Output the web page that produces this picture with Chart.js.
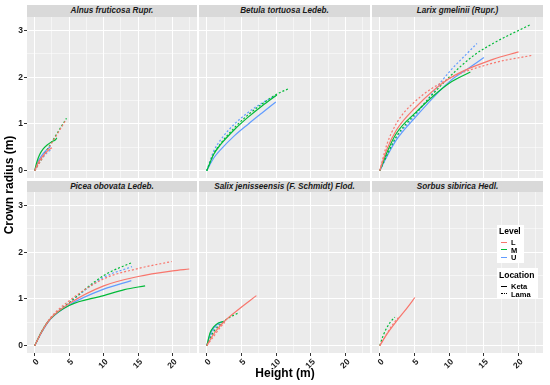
<!DOCTYPE html>
<html>
<head>
<meta charset="utf-8">
<script src="https://cdn.jsdelivr.net/npm/chart.js"></script>
<style>
body{margin:0;background:#fff;width:550px;height:385px;position:relative;overflow:hidden;font-family:"Liberation Sans",Arial,sans-serif}
canvas{position:absolute;z-index:1}
.strip{position:absolute;background:#d9d9d9;color:#1a1a1a;font-weight:bold;font-style:italic;font-size:8.2px;text-align:center;white-space:nowrap}
.lab{position:absolute;font-weight:bold;color:#000;white-space:nowrap;z-index:3}
.lgbox{position:absolute;background:#fff;z-index:2}
.key{position:absolute;width:6px;height:0;z-index:3}
</style>
</head>
<body>
<div class="lab" style="font-size:12px;left:-46px;top:178px;width:110px;text-align:center;transform:rotate(-90deg)">Crown radius (m)</div>
<div class="lab" style="font-size:12px;left:235px;top:366px;width:100px;text-align:center">Height (m)</div>

<div class="lgbox" style="left:497px;top:225px;width:27px;height:38px"></div>
<div class="lgbox" style="left:497px;top:268px;width:41px;height:30px"></div>
<div id="legend"></div>

<script>
// facets, in reading order
var species = ["Alnus fruticosa Rupr.", "Betula tortuosa Ledeb.", "Larix gmelinii (Rupr.)",
               "Picea obovata Ledeb.", "Salix jenisseensis (F. Schmidt) Flod.", "Sorbus sibirica Hedl."];
var levels = ["L", "M", "U"];
var locations = ["Keta", "Lama"];
var levelColors = ["#F8766D", "#00BA38", "#619CFF"];
var xTicks = [0, 5, 10, 15, 20];
var yTicks = [0, 1, 2, 3];

// [level, location, height (m), crown radius (m)]
var alnus = [
  ["L", "Keta", [0, 0.5, 1, 1.5, 2, 2.5], [0, 0.17, 0.28, 0.37, 0.44, 0.49]],
  ["L", "Lama", [0, 1, 2, 3, 4, 4.5], [0, 0.24, 0.48, 0.72, 0.96, 1.08]],
  ["M", "Keta", [0, 0.3, 0.7, 1.2, 1.8, 2.5, 3.0, 3.2], [0, 0.18, 0.34, 0.46, 0.55, 0.62, 0.66, 0.7]],
  ["M", "Lama", [0, 1, 2, 3, 4, 4.6], [0, 0.25, 0.5, 0.74, 0.98, 1.12]],
  ["U", "Keta", [0, 0.5, 1, 1.5, 2, 2.3], [0, 0.2, 0.32, 0.41, 0.48, 0.52]],
  ["U", "Lama", [0, 0.5, 1, 1.5, 2, 2.5], [0, 0.15, 0.25, 0.34, 0.41, 0.46]]
];
var betula = [
  ["M", "Keta", [0, 1, 2, 4, 6, 8, 10.1], [0, 0.35, 0.56, 0.88, 1.15, 1.39, 1.62]],
  ["M", "Lama", [0, 1, 2, 4, 6, 8, 10, 11.9], [0, 0.36, 0.58, 0.92, 1.2, 1.43, 1.63, 1.76]],
  ["U", "Keta", [0, 1, 2, 4, 6, 8, 9.95], [0, 0.27, 0.45, 0.75, 1.0, 1.24, 1.47]],
  ["U", "Lama", [0, 1, 2, 4, 6, 8, 9.85], [0, 0.42, 0.66, 1.0, 1.25, 1.45, 1.6]]
];
var larix = [
  ["L", "Keta", [0, 1, 2.4, 5, 10, 16.3, 20], [0, 0.45, 0.87, 1.33, 1.97, 2.38, 2.54]],
  ["L", "Lama", [0, 1, 2.4, 5, 10, 16.3, 22.06], [0, 0.55, 1.01, 1.47, 1.97, 2.3, 2.47]],
  ["M", "Keta", [0, 1, 2.4, 5, 10, 13.05], [0, 0.38, 0.8, 1.22, 1.87, 2.11]],
  ["M", "Lama", [0, 1, 2.4, 5, 10, 13.6, 16.3, 21.8], [0, 0.32, 0.73, 1.2, 2.0, 2.47, 2.72, 3.13]],
  ["U", "Keta", [0, 1, 2.4, 5, 10, 12.9, 15], [0, 0.3, 0.66, 1.12, 1.9, 2.2, 2.42]],
  ["U", "Lama", [0, 1, 2.4, 5, 10, 12, 14], [0, 0.3, 0.7, 1.16, 2.11, 2.42, 2.72]]
];
var picea = [
  ["L", "Keta", [0, 1.1, 2.3, 5, 10, 15, 20, 22.4], [0, 0.32, 0.58, 0.9, 1.28, 1.48, 1.6, 1.64]],
  ["L", "Lama", [0, 1.1, 2.3, 5, 10, 15, 19.85], [0, 0.33, 0.6, 0.96, 1.43, 1.65, 1.8]],
  ["M", "Keta", [0, 1.1, 2.3, 5, 10, 13, 16], [0, 0.33, 0.58, 0.86, 1.07, 1.2, 1.28]],
  ["M", "Lama", [0, 1.1, 2.3, 5, 10, 14.1], [0, 0.32, 0.58, 0.92, 1.5, 1.78]],
  ["U", "Keta", [0, 1.1, 2.3, 5, 10, 14], [0, 0.31, 0.57, 0.87, 1.21, 1.39]],
  ["U", "Lama", [0, 1.1, 2.3, 5, 10, 14.1], [0, 0.32, 0.58, 0.92, 1.46, 1.69]]
];
var salix = [
  ["L", "Keta", [0, 1, 2.4, 4.7, 7.15], [0, 0.25, 0.5, 0.79, 1.07]],
  ["L", "Lama", [0, 1, 2, 2.6], [0, 0.2, 0.4, 0.5]],
  ["M", "Keta", [0, 0.5, 1, 1.6, 2.5], [0, 0.28, 0.4, 0.48, 0.52]],
  ["M", "Lama", [0, 1, 2, 3, 4.7], [0, 0.3, 0.46, 0.58, 0.71]],
  ["U", "Keta", [0, 0.5, 1, 1.6, 2.6], [0, 0.25, 0.38, 0.47, 0.52]],
  ["U", "Lama", [0, 1, 2, 2.5], [0, 0.35, 0.48, 0.51]]
];
var sorbus = [
  ["L", "Keta", [0, 1, 2.5, 4, 5.06], [0, 0.24, 0.54, 0.82, 1.03]],
  ["L", "Lama", [0, 1, 2, 2.7], [0, 0.25, 0.48, 0.6]],
  ["M", "Lama", [0, 0.5, 1, 1.5, 2.17], [0, 0.22, 0.38, 0.5, 0.61]]
];
var panels = [alnus, betula, larix, picea, salix, sorbus];

// facet geometry
var colL = [27, 199, 372], colR = [197, 370, 543];
var stripT = [5, 181], rowT = [17, 192], rowB = [178, 353];

var bgPlugin = {
  id: "panelBg",
  beforeDraw: function (chart) {
    var a = chart.chartArea, ctx = chart.ctx;
    ctx.save();
    ctx.fillStyle = "#EBEBEB";
    ctx.fillRect(a.left, a.top, a.right - a.left, a.bottom - a.top);
    ctx.restore();
  }
};

function minorTicks(max, step) {
  var t = [];
  for (var v = 0; v <= max + 1e-9; v += step) t.push({ value: v });
  return t;
}

function noPad(s) {
  s.paddingTop = 0; s.paddingBottom = 0; s.paddingLeft = 0; s.paddingRight = 0;
}

function makePanel(idx) {
  var c = idx % 3, r = Math.floor(idx / 3);
  var left = c === 0 ? 0 : colL[c];
  var yw = colL[c] - left;
  var xh = r === 1 ? 26 : 0;

  var strip = document.createElement("div");
  strip.className = "strip";
  strip.style.left = colL[c] + "px";
  strip.style.top = stripT[r] + "px";
  strip.style.width = (colR[c] - colL[c]) + "px";
  strip.style.height = (rowT[r] - stripT[r]) + "px";
  strip.style.lineHeight = (rowT[r] - stripT[r]) + "px";
  strip.textContent = species[idx];
  document.body.appendChild(strip);

  var cv = document.createElement("canvas");
  cv.width = colR[c] - left;
  cv.height = rowB[r] - rowT[r] + xh;
  cv.style.left = left + "px";
  cv.style.top = rowT[r] + "px";
  document.body.appendChild(cv);

  var datasets = panels[idx].map(function (s) {
    return {
      data: s[2].map(function (h, i) { return { x: h, y: s[3][i] }; }),
      borderColor: levelColors[levels.indexOf(s[0])],
      borderWidth: 1.2,
      borderDash: s[1] === "Lama" ? [2, 2] : [],
      showLine: true,
      pointRadius: 0,
      cubicInterpolationMode: "monotone"
    };
  });

  new Chart(cv, {
    type: "scatter",
    data: { datasets: datasets },
    options: {
      responsive: false,
      animation: false,
      layout: { padding: 0 },
      plugins: { legend: { display: false }, tooltip: { enabled: false } },
      scales: {
        x: {
          type: "linear",
          min: -1.12,
          max: 23.52,
          afterBuildTicks: function (s) { s.ticks = minorTicks(22.5, 2.5); },
          afterFit: function (s) { s.height = xh; noPad(s); },
          border: { display: false },
          grid: {
            color: "#FFFFFF",
            lineWidth: function (ctx) { return ctx.tick && ctx.tick.value % 5 === 0 ? 1 : 0.5; },
            drawTicks: r === 1,
            tickLength: 3,
            tickColor: function (ctx) { return ctx.tick && ctx.tick.value % 5 === 0 ? "#333333" : "rgba(0,0,0,0)"; }
          },
          ticks: {
            display: r === 1,
            autoSkip: false,
            minRotation: 45,
            maxRotation: 45,
            labelOffset: 3,
            padding: 1,
            color: "#1a1a1a",
            font: { family: "Liberation Sans", size: 8.5, weight: "bold" },
            callback: function (v) { return xTicks.indexOf(v) >= 0 ? String(v) : ""; }
          }
        },
        y: {
          type: "linear",
          min: -0.157,
          max: 3.287,
          afterBuildTicks: function (s) { s.ticks = minorTicks(3, 0.5); },
          afterFit: function (s) { s.width = yw; noPad(s); },
          border: { display: false },
          grid: {
            color: "#FFFFFF",
            lineWidth: function (ctx) { return ctx.tick && ctx.tick.value % 1 === 0 ? 1 : 0.5; },
            drawTicks: c === 0,
            tickLength: 3,
            tickColor: function (ctx) { return ctx.tick && ctx.tick.value % 1 === 0 ? "#333333" : "rgba(0,0,0,0)"; }
          },
          ticks: {
            display: c === 0,
            autoSkip: false,
            padding: 1,
            color: "#1a1a1a",
            font: { family: "Liberation Sans", size: 8.5, weight: "bold" },
            callback: function (v) { return yTicks.indexOf(v) >= 0 ? String(v) : ""; }
          }
        }
      }
    },
    plugins: [bgPlugin]
  });
}

for (var i = 0; i < panels.length; i++) makePanel(i);

// legend
var lg = document.getElementById("legend");
function addText(txt, x, y, size) {
  var d = document.createElement("div");
  d.className = "lab";
  d.style.left = x + "px";
  d.style.top = (y - size * 0.6) + "px";
  d.style.fontSize = size + "px";
  d.style.lineHeight = (size * 1.2) + "px";
  d.style.color = "#000";
  d.textContent = txt;
  lg.appendChild(d);
}
function addKey(x, y, color, dotted) {
  var k = document.createElement("div");
  k.className = "key";
  k.style.left = x + "px";
  k.style.top = (y - 0.6) + "px";
  k.style.borderTop = "1.2px " + (dotted ? "dotted " : "solid ") + color;
  lg.appendChild(k);
}
addText("Level", 499, 231.5, 8.5);
levels.forEach(function (l, i) {
  var y = 242.5 + i * 7.5;
  addKey(500.5, y, levelColors[i], false);
  addText(l, 511, y, 7.5);
});
addText("Location", 499, 275, 8.5);
locations.forEach(function (l, i) {
  var y = 286.5 + i * 7.5;
  addKey(500.5, y, "#000", l === "Lama");
  addText(l, 511, y, 7.5);
});
</script>
</body>
</html>
